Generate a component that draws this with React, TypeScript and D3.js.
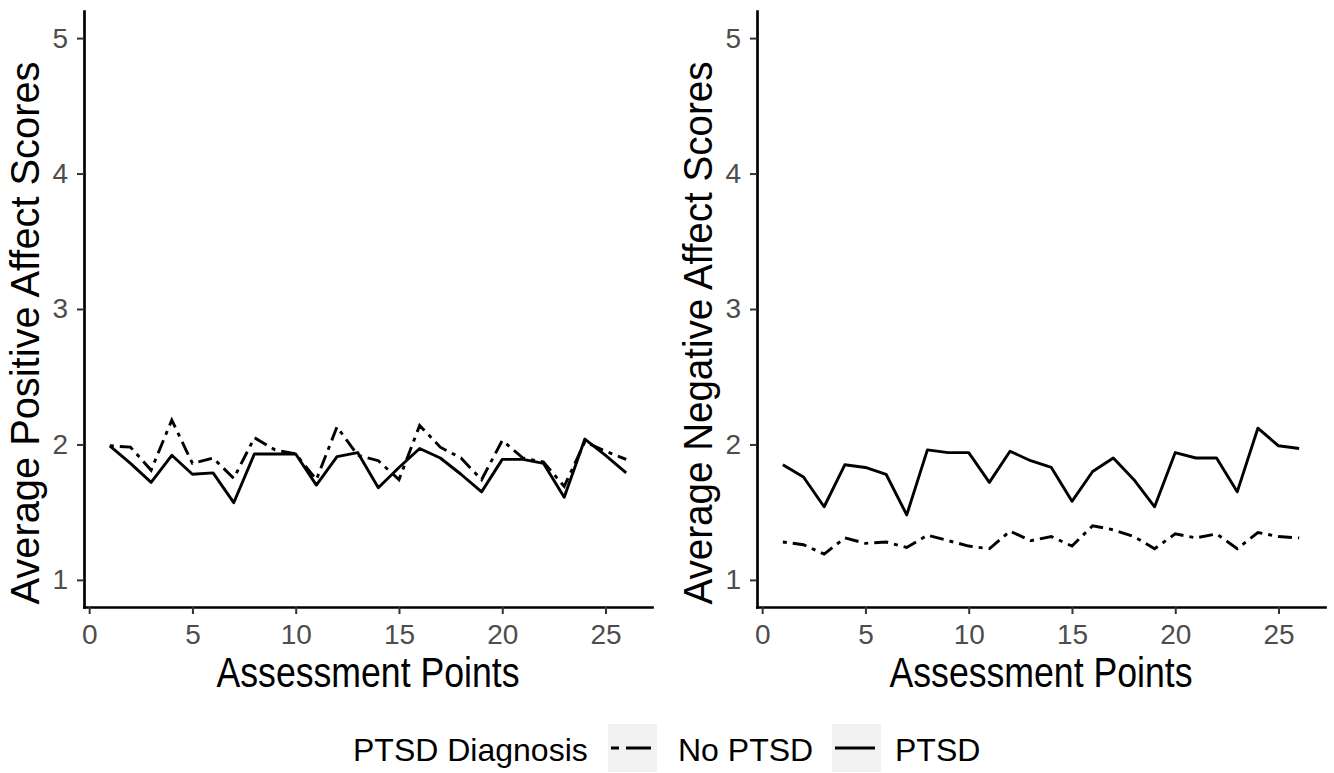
import React, { useEffect, useRef } from "react";
import * as d3 from "d3";

// assessment points on the x axis
const assessmentPoints = [
  1, 2, 3, 4, 5, 6, 7, 8, 9, 10, 11, 12, 13, 14, 15, 16, 17, 18, 19, 20, 21, 22, 23, 24, 25, 26
];

// average positive affect
const positiveNoPtsd = [
  1.99, 1.98, 1.81, 2.18, 1.86, 1.9, 1.75, 2.05, 1.96, 1.93, 1.74, 2.13, 1.92,
  1.88, 1.74, 2.14, 1.98, 1.9, 1.74, 2.03, 1.9, 1.87, 1.69, 2.02, 1.95, 1.89
];
const positivePtsd = [
  1.99, 1.86, 1.72, 1.92, 1.78, 1.79, 1.57, 1.93, 1.93, 1.93, 1.7, 1.91, 1.94,
  1.68, 1.83, 1.97, 1.9, 1.78, 1.65, 1.89, 1.89, 1.86, 1.61, 2.04, 1.92, 1.79
];

// average negative affect
const negativeNoPtsd = [
  1.28, 1.26, 1.19, 1.31, 1.27, 1.28, 1.24, 1.33, 1.29, 1.25, 1.23, 1.36, 1.29,
  1.32, 1.25, 1.4, 1.37, 1.32, 1.23, 1.34, 1.31, 1.34, 1.23, 1.35, 1.32, 1.31
];
const negativePtsd = [
  1.85, 1.76, 1.54, 1.85, 1.83, 1.78, 1.48, 1.96, 1.94, 1.94, 1.72, 1.95, 1.88,
  1.83, 1.58, 1.8, 1.9, 1.74, 1.54, 1.94, 1.9, 1.9, 1.65, 2.12, 1.99, 1.97
];

const xTicks = [0, 5, 10, 15, 20, 25];
const yTicks = [1, 2, 3, 4, 5];
const legendTitle = "PTSD Diagnosis";
const groups = ["No PTSD", "PTSD"];

const panels = [
  { title: "Average Positive Affect Scores", noPtsd: positiveNoPtsd, ptsd: positivePtsd, left: 84, right: 652 },
  { title: "Average Negative Affect Scores", noPtsd: negativeNoPtsd, ptsd: negativePtsd, left: 757, right: 1325 }
];

const WIDTH = 1334;
const HEIGHT = 773;
const FONT = "'Liberation Sans', Arial, Helvetica, sans-serif";
const DOTDASH = "4,6,14,6";

export default function App() {
  const chartRef = useRef(null);

  useEffect(() => {
    const svg = d3.select(chartRef.current);
    const top = 11;
    const bottom = 607;

    const y = d3.scaleLinear().domain([0.8, 5.2]).range([bottom, top]);

    panels.forEach(p => {
      const x = d3.scaleLinear().domain([-0.25, 27.25]).range([p.left, p.right]);
      const g = svg.append("g");

      const styleAxis = a =>
        a
          .call(a => a.select(".domain").attr("stroke", "#000").attr("stroke-width", 2.7).attr("stroke-linecap", "square"))
          .call(a => a.selectAll(".tick line").attr("stroke", "#333").attr("stroke-width", 2))
          .call(a =>
            a
              .selectAll(".tick text")
              .attr("fill", "#4d4d4d")
              .style("font-size", "28px")
              .style("font-family", FONT)
          );

      g.append("g")
        .attr("transform", `translate(0,${bottom})`)
        .call(d3.axisBottom(x).tickValues(xTicks).tickFormat(d3.format("d")).tickSize(7).tickPadding(10).tickSizeOuter(0))
        .call(styleAxis);

      g.append("g")
        .attr("transform", `translate(${p.left},0)`)
        .call(d3.axisLeft(y).tickValues(yTicks).tickFormat(d3.format("d")).tickSize(7).tickPadding(9).tickSizeOuter(0))
        .call(styleAxis);

      const line = d3
        .line()
        .x((d, i) => x(assessmentPoints[i]))
        .y(d => y(d));

      g.append("path")
        .attr("d", line(p.noPtsd))
        .attr("fill", "none")
        .attr("stroke", "#000")
        .attr("stroke-width", 2.9)
        .attr("stroke-dasharray", DOTDASH);

      g.append("path")
        .attr("d", line(p.ptsd))
        .attr("fill", "none")
        .attr("stroke", "#000")
        .attr("stroke-width", 2.9)
        .attr("stroke-linejoin", "round");

      // axis titles
      g.append("text")
        .attr("x", (p.left + p.right) / 2)
        .attr("y", 687)
        .attr("text-anchor", "middle")
        .attr("textLength", 303)
        .attr("lengthAdjust", "spacingAndGlyphs")
        .style("font-size", "42px")
        .style("font-family", FONT)
        .text("Assessment Points");

      g.append("text")
        .attr("transform", `translate(${p.left - 45},333) rotate(-90)`)
        .attr("text-anchor", "middle")
        .attr("textLength", 543)
        .attr("lengthAdjust", "spacingAndGlyphs")
        .style("font-size", "41px")
        .style("font-family", FONT)
        .text(p.title);
    });

    // legend
    const legend = svg.append("g").style("font-family", FONT).style("font-size", "32px");
    legend.append("text").attr("x", 353).attr("y", 761).text(legendTitle);

    const keys = [
      { label: groups[0], keyX: 608, textX: 678, dash: "8,7,25" },
      { label: groups[1], keyX: 832, textX: 895, dash: null }
    ];
    keys.forEach(k => {
      legend.append("rect").attr("x", k.keyX).attr("y", 724).attr("width", 49).attr("height", 48).attr("fill", "#f2f2f2");
      legend
        .append("line")
        .attr("x1", k.keyX + 3)
        .attr("x2", k.keyX + 43)
        .attr("y1", 748)
        .attr("y2", 748)
        .attr("stroke", "#000")
        .attr("stroke-width", 2.9)
        .attr("stroke-dasharray", k.dash);
      legend.append("text").attr("x", k.textX).attr("y", 761).text(k.label);
    });

    return () => {
      svg.html("");
    };
  }, [chartRef]);

  return (
    <svg
      ref={chartRef}
      width={WIDTH}
      height={HEIGHT}
      style={{ position: "absolute", left: 0, top: 0, background: "#fff" }}
    />
  );
}
